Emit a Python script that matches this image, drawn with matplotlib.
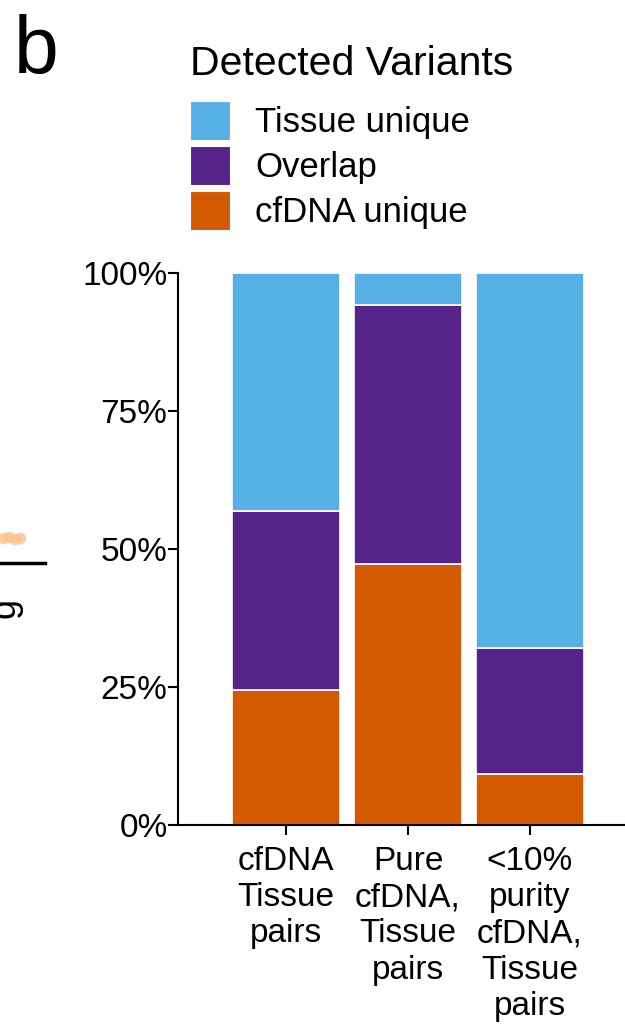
import matplotlib
matplotlib.use('Agg')
import matplotlib.pyplot as plt
from matplotlib.patches import Rectangle
from matplotlib.lines import Line2D

plt.rcParams['font.family'] = ['Liberation Sans', 'DejaVu Sans']

groups = ['cfDNA\nTissue\npairs',
          'Pure\ncfDNA,\nTissue\npairs',
          '<10%\npurity\ncfDNA,\nTissue\npairs']
cfdna_unique = [24.5, 47.3, 9.2]
overlap = [32.4, 46.9, 22.9]
tissue_unique = [43.1, 5.8, 67.9]

categories = ['Tissue unique', 'Overlap', 'cfDNA unique']
colors = {'Tissue unique': '#56B0E6', 'Overlap': '#55238A', 'cfDNA unique': '#D35A00'}

fig = plt.figure(figsize=(6.25, 10.32), dpi=100)
ax = fig.add_axes([0.2848, 0.2006, 0.7152, 0.5349])

x = list(range(len(groups)))
w = 0.885
bottom2 = [a + b for a, b in zip(cfdna_unique, overlap)]
ax.bar(x, cfdna_unique, width=w, color=colors['cfDNA unique'], edgecolor='white', linewidth=1.2)
ax.bar(x, overlap, width=w, bottom=cfdna_unique, color=colors['Overlap'], edgecolor='white', linewidth=1.2)
ax.bar(x, tissue_unique, width=w, bottom=bottom2, color=colors['Tissue unique'], edgecolor='white', linewidth=1.2)

ax.set_xlim(-0.885, 2.779)
ax.set_ylim(0, 100)
ax.set_yticks([0, 25, 50, 75, 100])
ax.set_yticklabels(['0%', '25%', '50%', '75%', '100%'])
ax.set_xticks(x)
ax.set_xticklabels(groups, linespacing=1.22)
for s in ['top', 'right']:
    ax.spines[s].set_visible(False)
for s in ['left', 'bottom']:
    ax.spines[s].set_linewidth(1.5)
ax.tick_params(axis='both', labelsize=24, length=7, width=1.5, colors='black')
ax.tick_params(axis='y', pad=0.5)
ax.tick_params(axis='x', pad=8)

# overlay in pixel units for the legend and the neighbouring panel edge
px = fig.add_axes([0, 0, 1, 1], zorder=-1)
px.set_xlim(0, 625)
px.set_ylim(1032, 0)
px.axis('off')

px.text(190, 75, 'Detected Variants', fontsize=29.5, ha='left', va='baseline')
for i, c in enumerate(categories):
    top = 101 + i * 45
    px.add_patch(Rectangle((190, top), 40, 39, facecolor=colors[c], edgecolor='white', linewidth=0.8))
    px.text(255, top + 31, c, fontsize=25, ha='left', va='baseline')

px.text(14, 73, 'b', fontsize=58, ha='left', va='baseline')

px.add_artist(Line2D([0, 45], [563, 563], color='black', linewidth=2.5))
px.scatter([3, 9, 15, 20], [538, 537, 539, 538], s=70, color='#FBC08F', alpha=0.8, linewidths=0)
px.text(-13, 608, 'g', fontsize=26, rotation=90, ha='left', va='center', clip_on=False)

fig.savefig('out.png', dpi=100)
